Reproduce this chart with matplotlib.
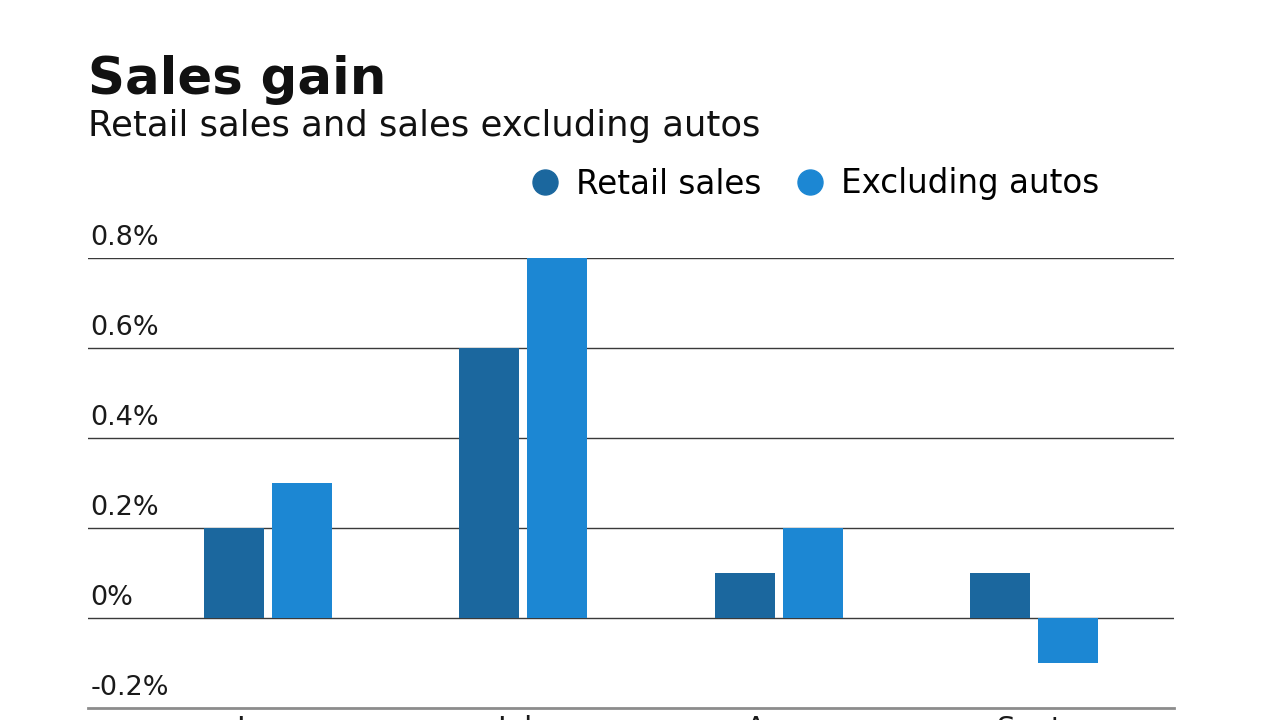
import numpy as np
import matplotlib
matplotlib.use('Agg')
import matplotlib.pyplot as plt
from matplotlib.lines import Line2D
from matplotlib.transforms import blended_transform_factory, offset_copy

plt.rcParams['font.family'] = ['DejaVu Sans']

months = ['June', 'July', 'Aug.', 'Sept.']
retail_sales = [0.2, 0.6, 0.1, 0.1]
excluding_autos = [0.3, 0.8, 0.2, -0.1]
y_ticks = [-0.2, 0, 0.2, 0.4, 0.6, 0.8]
y_tick_labels = ['-0.2%', '0%', '0.2%', '0.4%', '0.6%', '0.8%']

dark_blue = '#1b679e'
light_blue = '#1c87d3'

fig = plt.figure(figsize=(12.8, 7.2), dpi=100)
ax = fig.add_axes([88 / 1280, 12 / 720, 1086 / 1280, 450 / 720])

x = np.arange(len(months))
w = 0.235
off = 0.1333
ax.bar(x - off, retail_sales, w, color=dark_blue, zorder=3)
ax.bar(x + off, excluding_autos, w, color=light_blue, zorder=3)

ax.set_xlim(-0.706, 3.549)
ax.set_ylim(-0.2, 0.801)

for s in ['top', 'right', 'left']:
    ax.spines[s].set_visible(False)
ax.spines['bottom'].set_color('#8c8c8c')
ax.spines['bottom'].set_linewidth(2)

for v in y_ticks[1:]:
    ax.axhline(v, color='#3a3a3a', lw=1, zorder=2)

# y tick labels sit above the gridlines at the left edge
ax.set_yticks([])
trans = blended_transform_factory(ax.transAxes, ax.transData)
trans = offset_copy(trans, fig=fig, x=0, y=7, units='dots')
for v, lab in zip(y_ticks, y_tick_labels):
    ax.text(0.002, v, lab, transform=trans, ha='left', va='bottom',
            fontsize=19.5, color='#1a1a1a')

ax.set_xticks(x)
ax.set_xticklabels(months, fontsize=21, color='#1a1a1a')
ax.tick_params(axis='x', length=0, pad=5)

fig.text(88 / 1280, 1 - 94 / 720, 'Sales gain', fontsize=37, fontweight='bold',
         color='#111111', ha='left', va='baseline')
fig.text(88 / 1280, 1 - 136 / 720, 'Retail sales and sales excluding autos',
         fontsize=25.5, color='#111111', ha='left', va='baseline')

handles = [Line2D([], [], marker='o', ls='', markersize=18, color=dark_blue),
           Line2D([], [], marker='o', ls='', markersize=18, color=light_blue)]
fig.legend(handles, ['Retail sales', 'Excluding autos'], loc='center right',
           bbox_to_anchor=(1116 / 1280, 1 - 184 / 720), ncol=2, frameon=False,
           fontsize=23.5, handletextpad=0.35, columnspacing=0.9, borderpad=0,
           handlelength=1.2)

fig.savefig('out.png', dpi=100)
